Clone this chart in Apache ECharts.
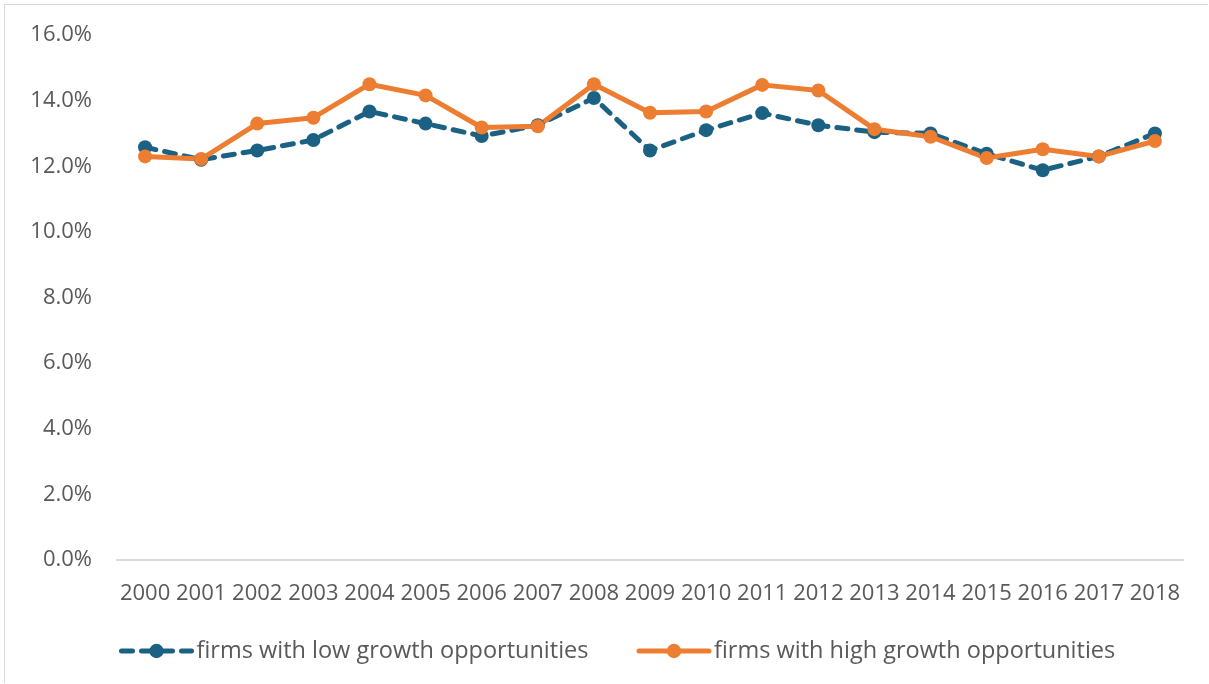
<!DOCTYPE html>
<html><head><meta charset="utf-8">
<script src="https://cdn.jsdelivr.net/npm/echarts@6/dist/echarts.min.js"></script>
<style>html,body{margin:0;padding:0;background:#fff}
#frame{position:absolute;left:4px;top:4px;width:1204px;height:679px;border-left:1px solid #d9d9d9;border-top:1px solid #d9d9d9;box-sizing:border-box}
#c{position:absolute;left:0;top:0;width:1209px;height:684px}</style>
</head><body><div id="frame"></div><div id="c"></div>
<script>
const years = ['2000','2001','2002','2003','2004','2005','2006','2007','2008','2009','2010','2011','2012','2013','2014','2015','2016','2017','2018'];
const lowGrowth = [12.58,12.2,12.48,12.8,13.67,13.3,12.92,13.25,14.08,12.48,13.1,13.62,13.25,13.04,13.0,12.38,11.88,12.3,13.0];
const highGrowth = [12.3,12.22,13.3,13.48,14.5,14.16,13.18,13.22,14.5,13.63,13.67,14.48,14.31,13.13,12.9,12.25,12.52,12.3,12.77];
const yTicks = {min:0, max:16, interval:2};
const chart = echarts.init(document.getElementById('c'));
const font = '"Open Sans", sans-serif';
chart.setOption({
  animation:false,
  textStyle:{fontFamily:font},
  grid:{left:117,right:26,top:35,bottom:124},
  xAxis:{type:'category',data:years,boundaryGap:true,
    axisLine:{lineStyle:{color:'#d9d9d9',width:2}},axisTick:{show:false},
    axisLabel:{color:'#595959',fontSize:22,margin:23,fontFamily:font,interval:0}},
  yAxis:{type:'value',min:yTicks.min,max:yTicks.max,interval:yTicks.interval,
    splitLine:{show:false},axisLine:{show:false},axisTick:{show:false},
    axisLabel:{color:'#595959',fontSize:22,margin:25,fontFamily:font,formatter:v=>v.toFixed(1)+'%'}},
  legend:{top:634,left:114,itemWidth:70,itemHeight:18,itemGap:48,itemTextGap:11,
    lineStyle:{width:5},
    textStyle:{color:'#595959',fontSize:23.5,fontFamily:font},
    data:['firms with low growth opportunities','firms with high growth opportunities']},
  series:[
    {name:'firms with low growth opportunities',type:'line',data:lowGrowth,
     symbol:'circle',symbolSize:14,
     lineStyle:{color:'#1b6183',width:5,type:[11,9],cap:'round'},
     itemStyle:{color:'#1b6183'}},
    {name:'firms with high growth opportunities',type:'line',data:highGrowth,
     symbol:'circle',symbolSize:14,
     lineStyle:{color:'#ed7d31',width:5,cap:'round'},
     itemStyle:{color:'#ed7d31'}}
  ]
});
</script></body></html>
